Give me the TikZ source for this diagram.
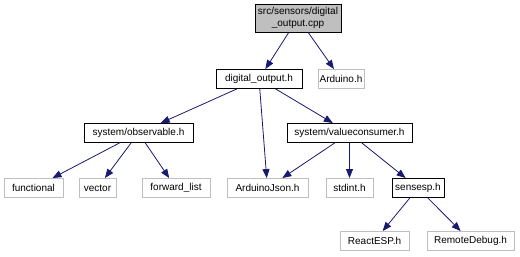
\documentclass[tikz,border=0pt]{standalone}
\usepackage{fontspec}
\setmainfont{Liberation Sans}
\usetikzlibrary{arrows.meta}
\definecolor{edgeblue}{RGB}{25,25,112}
\definecolor{leafgray}{RGB}{191,191,191}
\definecolor{rootfill}{RGB}{191,191,191}
\tikzset{
  x=1pt, y=-1pt,
  file/.style={draw=black, line width=0.9pt, inner sep=0pt, minimum height=19pt,
    font=\fontsize{10}{11.5}\selectfont, align=center},
  leaf/.style={file, draw=leafgray},
  rootfile/.style={file, fill=rootfill, minimum height=28pt},
  edge/.style={draw=edgeblue, line width=0.8pt,
    -{Triangle[length=9pt,width=7pt]}, shorten <=0pt}
}
\begin{document}
\begin{tikzpicture}
\useasboundingbox (0,0) rectangle (520,257);
% include-graph nodes
\node[rootfile, minimum width=86pt] (root) at (298,18) {src/sensors/digital\\\_output.cpp};
\node[file, minimum width=86pt] (dig) at (259,79) {digital\_output.h};
\node[leaf, minimum width=46pt] (ard) at (341,79) {Arduino.h};
\node[file, minimum width=109pt] (obs) at (138.5,133) {system/observable.h};
\node[file, minimum width=125pt] (vc) at (349.5,133) {system/valueconsumer.h};
\node[leaf, minimum width=59pt] (fun) at (33.5,188) {functional};
\node[leaf, minimum width=37pt] (vec) at (97.5,188) {vector};
\node[leaf, minimum width=68pt] (fwd) at (176,188) {forward\_list};
\node[leaf, minimum width=81pt] (json) at (267.5,188) {ArduinoJson.h};
\node[leaf, minimum width=47pt] (std) at (349.5,188) {stdint.h};
\node[file, minimum width=52pt] (ses) at (418,188) {sensesp.h};
\node[leaf, minimum width=69pt] (rea) at (374.5,241) {ReactESP.h};
\node[leaf, minimum width=87pt] (rem) at (470.5,241) {RemoteDebug.h};
% include edges
\draw[edge] (root) -- (dig);
\draw[edge] (root) -- (ard);
\draw[edge] (dig) -- (obs);
\draw[edge] (dig) -- (json);
\draw[edge] (dig) -- (vc);
\draw[edge] (obs) -- (fun);
\draw[edge] (obs) -- (vec);
\draw[edge] (obs) -- (fwd);
\draw[edge] (vc) -- (json);
\draw[edge] (vc) -- (std);
\draw[edge] (vc) -- (ses);
\draw[edge] (ses) -- (rea);
\draw[edge] (ses) -- (rem);
\end{tikzpicture}
\end{document}
